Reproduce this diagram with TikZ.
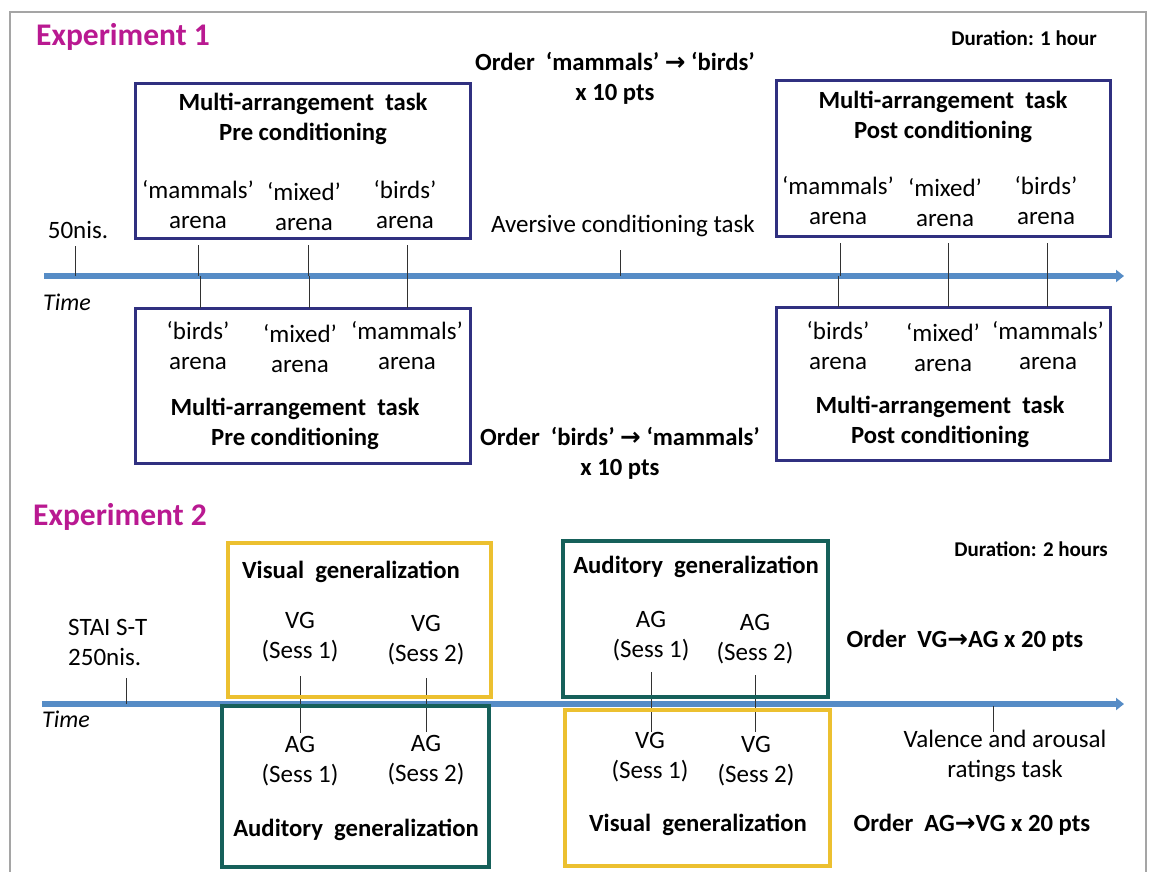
\documentclass[tikz,border=0pt]{standalone}
\usepackage{fontspec}
\setmainfont{Carlito}
\newfontfamily\arrowfont{DejaVu Sans}
\usetikzlibrary{arrows.meta}
\definecolor{magentaT}{RGB}{185,25,145}
\definecolor{navy}{RGB}{48,48,128}
\definecolor{tlblue}{RGB}{86,140,198}
\definecolor{gold}{RGB}{236,192,48}
\definecolor{tealbox}{RGB}{22,96,90}
\definecolor{framegray}{RGB}{165,165,165}
\definecolor{tickgray}{RGB}{50,50,50}
\newcommand\arr{{\arrowfont\bfseries →}}
\begin{document}
\begin{tikzpicture}[x=1pt,y=-1pt,
  txt/.style={font=\fontsize{25}{30}\selectfont, align=center, inner sep=0pt},
  btxt/.style={txt, font=\fontsize{24.7}{30}\selectfont\bfseries},
  titletxt/.style={inner sep=0pt, text=magentaT, font=\fontsize{31.5}{34}\selectfont\bfseries},
  durtxt/.style={inner sep=0pt, font=\fontsize{21}{25}\selectfont\bfseries},
  timetxt/.style={inner sep=0pt, font=\fontsize{24}{26}\selectfont\itshape},
  navybox/.style={draw=navy, line width=3pt, inner sep=0pt},
  goldbox/.style={draw=gold, line width=3.5pt, inner sep=0pt},
  tealboxst/.style={draw=tealbox, line width=3.5pt, inner sep=0pt},
  timeline/.style={draw=tlblue, line width=6pt, -{Triangle[length=8pt,width=12pt]}},
  tickline/.style={draw=tickgray, line width=1pt},
  framest/.style={draw=framegray, line width=2pt}
]
\useasboundingbox (0,0) rectangle (1149,871);
\fill[white] (0,0) rectangle (1149,871);
% frame
\coordinate (fr1) at (10,875);
\coordinate (fr2) at (10,12);
\coordinate (fr3) at (1146,12);
\coordinate (fr4) at (1146,875);
\draw[framest] (fr1) -- (fr2) -- (fr3) -- (fr4);

% ================= Experiment 1 =================
\coordinate (tl1s) at (44,276);
\coordinate (tl1e) at (1124,276);
\draw[timeline] (tl1s) -- (tl1e);

\node[titletxt, anchor=west] (e1) at (36,37) {Experiment 1};
\node[durtxt, anchor=east] (d1) at (1097,38) {Duration: 1 hour};
\node[btxt] (o1) at (615,78) {Order\ \ ‘mammals’ \arr{} ‘birds’\\x 10 pts};

% pre conditioning (top)
\node[navybox, minimum width=335, minimum height=155] (preA) at (302.5,160.5) {};
\node[btxt] (preAt) at (303,119) {Multi-arrangement\ \ task\\Pre conditioning};
\node[txt] (pa1) at (198,205) {‘mammals’\\arena};
\node[txt] (pa2) at (304,207) {‘mixed’\\arena};
\node[txt] (pa3) at (405,205) {‘birds’\\arena};

% post conditioning (top)
\node[navybox, minimum width=334, minimum height=156] (postA) at (943,158) {};
\node[btxt] (postAt) at (943,117) {Multi-arrangement\ \ task\\Post conditioning};
\node[txt] (qa1) at (838,201) {‘mammals’\\arena};
\node[txt] (qa2) at (945,203) {‘mixed’\\arena};
\node[txt] (qa3) at (1046,201) {‘birds’\\arena};

\node[txt] (n50) at (78,230) {50nis.};
\node[txt] (avers) at (623,226) {Aversive conditioning task};
\node[timetxt] (time1) at (67,302) {Time};

% pre conditioning (bottom)
\node[navybox, minimum width=335, minimum height=155] (preB) at (302.5,385.5) {};
\node[txt] (pb1) at (198,346) {‘birds’\\arena};
\node[txt] (pb2) at (300,349) {‘mixed’\\arena};
\node[txt] (pb3) at (407,346) {‘mammals’\\arena};
\node[btxt] (preBt) at (295,424) {Multi-arrangement\ \ task\\Pre conditioning};

% post conditioning (bottom)
\node[navybox, minimum width=334, minimum height=153] (postB) at (943,383.5) {};
\node[txt] (qb1) at (838,346) {‘birds’\\arena};
\node[txt] (qb2) at (943,348) {‘mixed’\\arena};
\node[txt] (qb3) at (1048,346) {‘mammals’\\arena};
\node[btxt] (postBt) at (940,422) {Multi-arrangement\ \ task\\Post conditioning};

\node[btxt] (o2) at (620,453) {Order\ \ ‘birds’ \arr{} ‘mammals’\\x 10 pts};

% ticks experiment 1
\coordinate (k0) at (75,246);
\coordinate (k1) at (198,245);
\coordinate (k2) at (308,245);
\coordinate (k3) at (407,245);
\coordinate (k4) at (620,250);
\coordinate (k5) at (840,243);
\coordinate (k6) at (948,243);
\coordinate (k7) at (1047,243);
\foreach \k in {k0,k1,k2,k3,k4,k5,k6,k7}
  \draw[tickline] (\k) -- (\k |- tl1s);
\coordinate (m1) at (200,308);
\coordinate (m2) at (309,308);
\coordinate (m3) at (407,308);
\coordinate (m4) at (838,307);
\coordinate (m5) at (948,307);
\coordinate (m6) at (1047,307);
\foreach \m in {m1,m2,m3,m4,m5,m6}
  \draw[tickline] (\m) -- (\m |- tl1s);

% ================= Experiment 2 =================
\coordinate (tl2s) at (42,704);
\coordinate (tl2e) at (1124,704);
\draw[timeline] (tl2s) -- (tl2e);

\node[titletxt, anchor=west] (e2) at (33,517) {Experiment 2};
\node[durtxt, anchor=east] (d2) at (1108,549) {Duration: 2 hours};

% ticks experiment 2 (drawn under boxes)
\coordinate (s0) at (126,678);
\draw[tickline] (s0) -- (s0 |- tl2s);
\coordinate (s1a) at (300,676); \coordinate (s1b) at (300,733);
\coordinate (s2a) at (426,678); \coordinate (s2b) at (426,732);
\coordinate (s3a) at (651,672); \coordinate (s3b) at (651,732);
\coordinate (s4a) at (755,675); \coordinate (s4b) at (755,732);
\coordinate (s5) at (993,706);  \coordinate (s5b) at (993,732);
\draw[tickline] (s1a) -- (s1b);
\draw[tickline] (s2a) -- (s2b);
\draw[tickline] (s3a) -- (s3b);
\draw[tickline] (s4a) -- (s4b);
\draw[tickline] (s5) -- (s5b);

% VG top
\node[goldbox, minimum width=263, minimum height=154] (vgA) at (359.5,620) {};
\node[btxt] (vgAt) at (351,572) {Visual\ \ generalization};
\node[txt] (vga1) at (300,637) {VG\\(Sess 1)};
\node[txt] (vga2) at (426,640) {VG\\(Sess 2)};

% AG top
\node[tealboxst, minimum width=265, minimum height=156] (agA) at (695.5,619) {};
\node[btxt] (agAt) at (696,567) {Auditory\ \ generalization};
\node[txt] (aga1) at (651,636) {AG\\(Sess 1)};
\node[txt] (aga2) at (755,639) {AG\\(Sess 2)};

\node[txt, align=left, anchor=west] (stai) at (68,642) {STAI S-T\\250nis.};
\node[timetxt] (time2) at (66,719) {Time};
\node[btxt] (o3) at (965,641) {Order\ \ VG\arr AG x 20 pts};

% AG bottom
\node[tealboxst, minimum width=267, minimum height=161] (agB) at (355.5,786.5) {};
\node[txt] (agb1) at (300,761) {AG\\(Sess 1)};
\node[txt] (agb2) at (426,760) {AG\\(Sess 2)};
\node[btxt] (agBt) at (356,830) {Auditory\ \ generalization};

% VG bottom
\node[goldbox, minimum width=265, minimum height=156] (vgB) at (697.5,788) {};
\node[txt] (vgb1) at (650,757) {VG\\(Sess 1)};
\node[txt] (vgb2) at (756,761) {VG\\(Sess 2)};
\node[btxt] (vgBt) at (698,825) {Visual\ \ generalization};

\node[txt] (val) at (1005,756) {Valence and arousal\\ratings task};
\node[btxt] (o4) at (972,825) {Order\ \ AG\arr VG x 20 pts};
\end{tikzpicture}
\end{document}
